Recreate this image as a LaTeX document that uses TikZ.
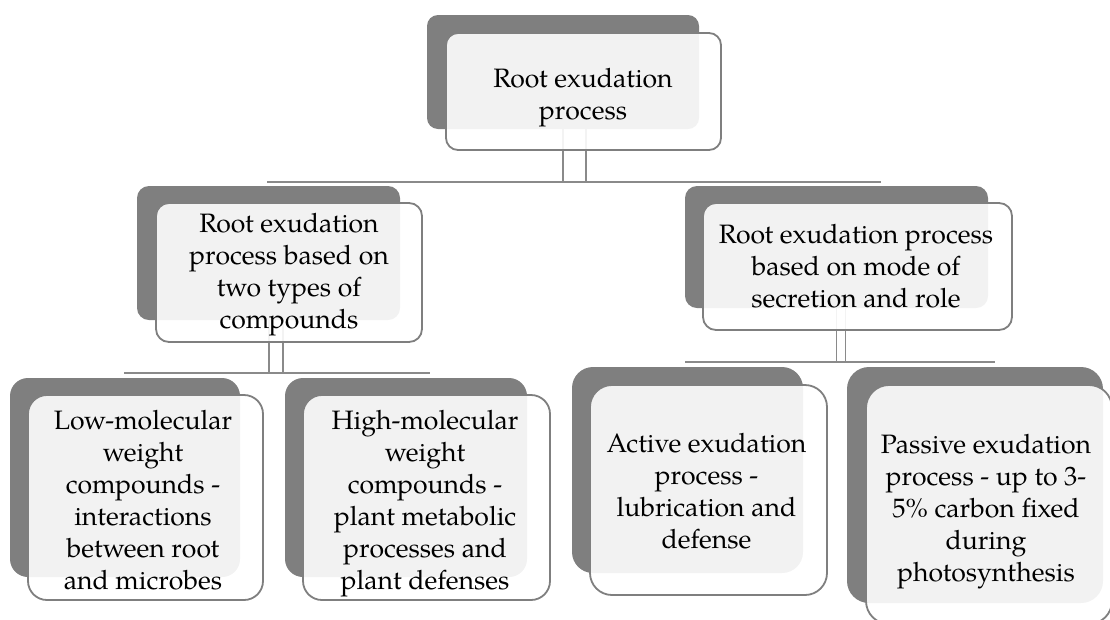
\documentclass[tikz,border=0pt]{standalone}
\usepackage{fontspec}
\setmainfont{TeX Gyre Pagella}
\definecolor{darkg}{HTML}{7F7F7F}
\definecolor{lineg}{HTML}{8A8A8A}
\newcommand\boxfont{\fontsize{26.6}{32}\selectfont}
\newcommand\mylines[1]{\begin{tabular}[t]{@{}c@{}}#1\end{tabular}}
\tikzset{
  darkbox/.style={fill=darkg, draw=none, inner sep=0pt, outer sep=0pt, rounded corners=#1},
  frontbox/.style={fill=white, fill opacity=0.9, draw=darkg, line width=1.8pt, inner sep=0pt, outer sep=0pt, rounded corners=#1},
  boxtext/.style={anchor=base, inner sep=0pt, font=\boxfont, text=black},
  conn/.style={draw=lineg, line width=1.6pt},
}
\begin{document}
\begin{tikzpicture}[x=1pt,y=-1pt]
\useasboundingbox (0,0) rectangle (1110,619);
\clip (0,0) rectangle (1110,619);
% connector bars
\coordinate (h1L) at (267,182);
\coordinate (h1R) at (881,182);
\coordinate (h2L) at (124,373);
\coordinate (h2R) at (430,373);
\coordinate (h3L) at (685,362);
\coordinate (h3R) at (995,362);

% ---- dark boxes ----
\node[darkbox=11pt, minimum width=272pt, minimum height=114pt] (dT) at (563,72) {};
\node[darkbox=12pt, minimum width=263pt, minimum height=134pt] (dLM) at (268.5,253) {};
\node[darkbox=12pt, minimum width=303pt, minimum height=122pt] (dRM) at (836.5,247) {};
\node[darkbox=18pt, minimum width=230pt, minimum height=199pt] (dLL) at (125,477.5) {};
\node[darkbox=18pt, minimum width=242pt, minimum height=199pt] (dLR) at (406,477.5) {};
\node[darkbox=21pt, minimum width=231pt, minimum height=206pt] (dRL) at (687.5,470) {};
\node[darkbox=22pt, minimum width=256pt, minimum height=236pt] (dRR) at (975,485) {};

% ---- connectors ----
\draw[conn] (h1L) -- (h1R);
\draw[conn] (dT.south) -- (dT.south |- h1L);
\draw[conn] ([xshift=23pt]dT.south) -- ([xshift=23pt]dT.south |- h1L);
\draw[conn] (h2L) -- (h2R);
\draw[conn] ([xshift=0.5pt]dLM.south) -- ([xshift=0.5pt]dLM.south |- h2L);
\draw[conn] ([xshift=14.5pt]dLM.south) -- ([xshift=14.5pt]dLM.south |- h2L);
\draw[conn] (h3L) -- (h3R);
\draw[conn] (dRM.south) -- (dRM.south |- h3L);
\draw[conn] ([xshift=9pt]dRM.south) -- ([xshift=9pt]dRM.south |- h3L);

% ---- front boxes ----
\node[frontbox=12pt, minimum width=275pt, minimum height=117pt] (fT) at (583.5,91.5) {};
\node[frontbox=13pt, minimum width=266pt, minimum height=139pt] (fLM) at (289,272.5) {};
\node[frontbox=13pt, minimum width=309pt, minimum height=127pt] (fRM) at (857.5,266.5) {};
\node[frontbox=19pt, minimum width=235pt, minimum height=205pt] (fLL) at (145.5,497.5) {};
\node[frontbox=19pt, minimum width=247pt, minimum height=205pt] (fLR) at (426.5,497.5) {};
\node[frontbox=22pt, minimum width=237pt, minimum height=210pt] (fRL) at (708.5,490) {};
\node[frontbox=23pt, minimum width=246pt, minimum height=239pt] (fRR) at (989,504.5) {};

% ---- texts ----
\node[boxtext] (tT) at (583,87) {\mylines{Root exudation\\process}};
\node[boxtext] (tLM) at (289,232) {\mylines{Root exudation\\process based on\\two types of\\compounds}};
\node[boxtext] (tRM) at (856,243) {\mylines{Root exudation process\\based on mode of\\secretion and role}};
\node[boxtext] (tLL) at (143,429) {\mylines{Low-molecular\\weight\\compounds -\\interactions\\between root\\and microbes}};
\node[boxtext] (tLR) at (425,429) {\mylines{High-molecular\\weight\\compounds -\\plant metabolic\\processes and\\plant defenses}};
\node[boxtext] (tRL) at (706.5,452) {\mylines{Active exudation\\process -\\lubrication and\\defense}};
\node[boxtext] (tRR) at (986,453) {\mylines{Passive exudation\\process - up to 3-\\5\% carbon fixed\\during\\photosynthesis}};
\end{tikzpicture}
\end{document}
